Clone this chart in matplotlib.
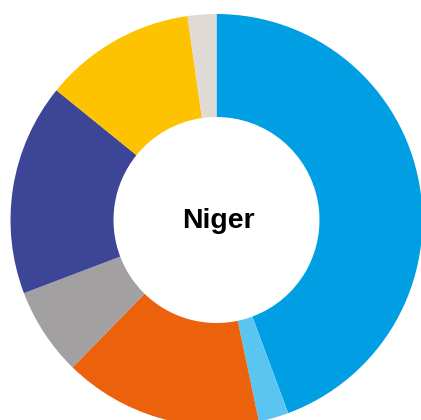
import matplotlib.pyplot as plt

# quote per categoria (in %)
categorie = ["A", "B", "C", "D", "E", "F", "G"]
valori = [44.3, 2.35, 15.6, 6.9, 16.6, 11.9, 2.25]
colori = ["#009FE3", "#5BC5F2", "#EC610C", "#A3A0A2", "#3C4596", "#FDC300", "#E0DAD5"]
titolo = "Niger"

fig = plt.figure(figsize=(4.21, 4.20), dpi=100)
ax = fig.add_axes([0, 0, 1, 1])
ax.pie(valori, colors=colori, startangle=90, counterclock=False,
       radius=1.0, wedgeprops=dict(width=0.5, linewidth=0))
ax.text(0.01, -0.005, titolo, ha="center", va="center", fontsize=20.5,
        fontweight="bold", family=["Liberation Sans", "DejaVu Sans"])

# centro a (216.5, 220) px, raggio 206 px
r = 206.0
ax.set_xlim(-216.5 / r, (421 - 216.5) / r)
ax.set_ylim(-200 / r, 220 / r)
ax.set_aspect("equal")
ax.axis("off")

fig.savefig("out.png", dpi=100)
